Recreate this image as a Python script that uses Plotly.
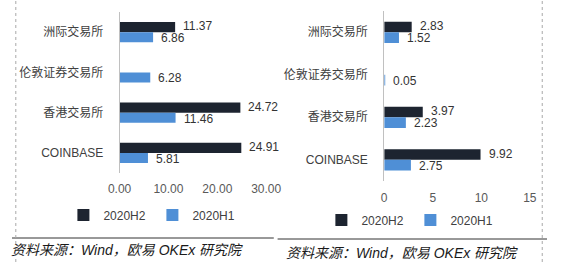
import plotly.graph_objects as go

# ---------------- data ----------------
categories = ["洲际交易所", "伦敦证券交易所", "香港交易所", "COINBASE"]
series_names = ["2020H2", "2020H1"]
left_h2 = [11.37, None, 24.72, 24.91]
left_h1 = [6.86, 6.28, 11.46, 5.81]
right_h2 = [2.83, None, 3.97, 9.92]
right_h1 = [1.52, 0.05, 2.23, 2.75]
left_ticks = [0, 10, 20, 30]
right_ticks = [0, 5, 10, 15]
source_text = "资料来源：Wind，欧易 OKEx 研究院"

W, H = 562, 262
FONT = "Liberation Sans, Arial, Noto Sans CJK SC, sans-serif"
C_H2 = "#1d2430"
C_H1 = "#4f8fd6"
GRAY = "#595959"

def px(v):
    return v / W

def py(v):
    return 1 - v / H

fig = go.Figure()

panels = [
    dict(x="x", y="y", h2=left_h2, h1=left_h1, leg="legend"),
    dict(x="x2", y="y2", h2=right_h2, h1=right_h1, leg="legend2"),
]

annotations = []
for p in panels:
    for name, vals, col, ysh in ((series_names[0], p["h2"], C_H2, 6),
                                 (series_names[1], p["h1"], C_H1, -6)):
        fig.add_trace(go.Bar(
            y=categories, x=vals, orientation="h", name=name,
            marker=dict(color=col, line=dict(width=0)),
            xaxis=p["x"], yaxis=p["y"], legend=p["leg"],
            hoverinfo="skip",
        ))
        for cat, v in zip(categories, vals):
            if v is None:
                continue
            annotations.append(dict(
                x=v, y=cat, xref=p["x"], yref=p["y"],
                text="{:.2f}".format(v), showarrow=False,
                xanchor="left", yanchor="middle", xshift=7, yshift=ysh,
                borderpad=0,
                font=dict(size=12, color="#333333", family=FONT),
            ))

# source notes
for sx, sy in ((-3, 250), (286, 253)):
    annotations.append(dict(x=px(sx), y=py(sy), xref="paper", yref="paper",
                            text="<i>" + source_text + "</i>", showarrow=False,
                            xanchor="left", yanchor="middle",
                            font=dict(size=14, color="#1a1a1a", family=FONT)))

shapes = [
    dict(type="line", xref="paper", yref="paper", x0=0, x1=px(275),
         y0=py(238), y1=py(238), line=dict(color="#333333", width=1)),
    dict(type="line", xref="paper", yref="paper", x0=px(279), x1=1,
         y0=py(239), y1=py(239), line=dict(color="#333333", width=1)),
    dict(type="line", xref="paper", yref="paper", x0=px(4), x1=px(4),
         y0=0, y1=1, line=dict(color="#a8a8a8", width=1, dash="dot")),
    dict(type="line", xref="paper", yref="paper", x0=px(557), x1=px(557),
         y0=0, y1=1, line=dict(color="#a8a8a8", width=1, dash="dot")),
]

yaxis_common = dict(
    type="category", categoryorder="array", categoryarray=categories,
    autorange="reversed", showline=True, linecolor="#c0c0c0", linewidth=1,
    ticks="", showgrid=False, zeroline=False, ticklabelstandoff=13,
    tickfont=dict(size=12, color="#404040", family=FONT),
)
xaxis_common = dict(
    showgrid=False, zeroline=False, showline=False, ticks="",
    tickfont=dict(size=12, color=GRAY, family=FONT),
)

legend_common = dict(
    orientation="h", yanchor="middle", xanchor="left",
    font=dict(size=12, color="#404040", family=FONT),
    bgcolor="rgba(0,0,0,0)", itemwidth=30, traceorder="normal",
    itemclick=False, itemdoubleclick=False,
    entrywidthmode="pixels", entrywidth=44,
)

fig.update_layout(
    width=W, height=H,
    margin=dict(l=0, r=0, t=0, b=0),
    paper_bgcolor="white", plot_bgcolor="white",
    font=dict(family=FONT, size=12, color="#404040"),
    barmode="group", bargap=0.5, bargroupgap=0,
    xaxis=dict(domain=[px(113), px(267)], range=[0, 30],
               tickvals=left_ticks, tickformat=".2f", anchor="y",
               ticklabelstandoff=7, **xaxis_common),
    yaxis=dict(domain=[py(173), py(12)], anchor="x", **yaxis_common),
    xaxis2=dict(domain=[px(391), px(544)], range=[0, 15],
                tickvals=right_ticks, anchor="y2",
                ticklabelstandoff=8, **xaxis_common),
    yaxis2=dict(domain=[py(181), py(11)], anchor="x2", **yaxis_common),
    legend=dict(x=px(54), y=py(215), **legend_common),
    legend2=dict(x=px(325), y=py(220), **legend_common),
    annotations=annotations,
    shapes=shapes,
)

fig.write_html("out.html")
